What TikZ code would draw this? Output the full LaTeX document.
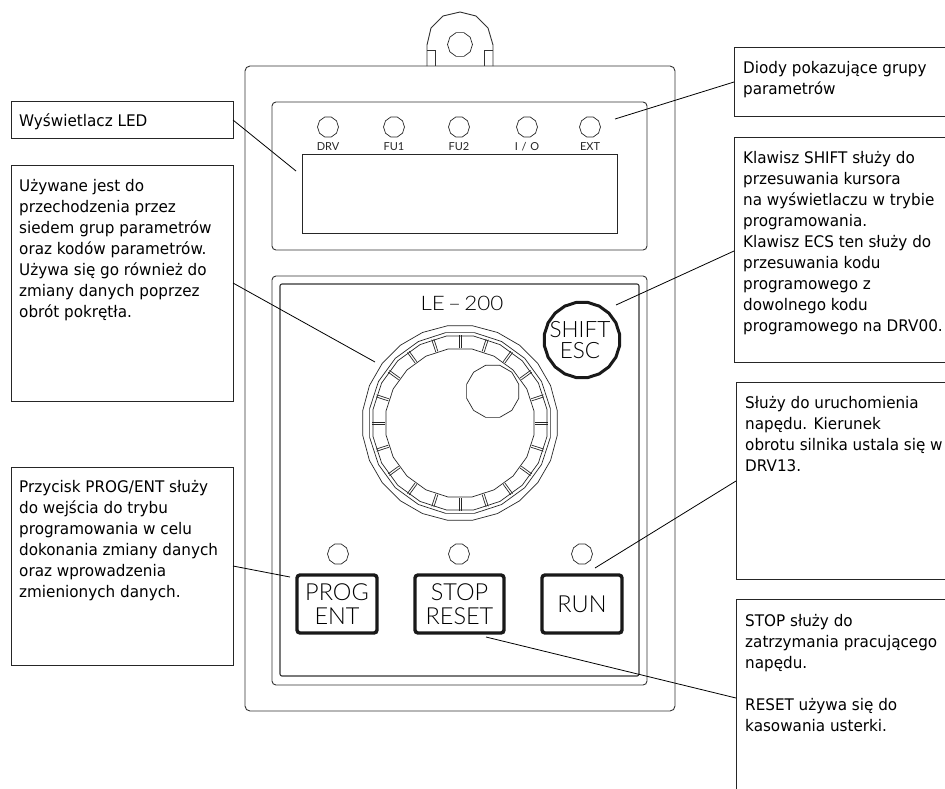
\documentclass[tikz,border=0pt]{standalone}
\usepackage{fontspec}
\usetikzlibrary{shapes.geometric,calc}
\setmainfont[FakeStretch=0.95]{DejaVu Sans}
\newfontfamily\cadfont{Lato Light}
\newfontfamily\cadsmall{Lato}
\newfontfamily\cadwide[FakeStretch=1.12]{Lato Light}
\tikzset{
 x=1pt,y=-1pt,
 wire/.style={draw=black!80,line width=0.9pt},
 thin wire/.style={draw=black!85,line width=0.7pt},
 callout/.style={draw=black!85,line width=0.9pt,fill=white,inner sep=0pt,outer sep=0pt},
 leader/.style={draw=black,line width=0.8pt},
 keybox/.style={draw=black!90,line width=3.4pt,rounded corners=3pt,inner sep=0pt},
 lamp/.style={draw=black!85,line width=0.7pt,regular polygon,regular polygon sides=10,minimum size=21pt,inner sep=0pt},
 cad/.style={font=\cadsmall\fontsize{11}{12}\selectfont,inner sep=0pt,text=black!85},
 keytext/.style={font=\cadfont\fontsize{23.5}{24}\selectfont,align=center,text=black},
 txt/.style={font=\fontsize{16}{21}\selectfont,align=left,anchor=north west,inner sep=0pt}
}
\begin{document}
\begin{tikzpicture}
\useasboundingbox (0,0) rectangle (945,788);
\fill[white] (0,0) rectangle (945,788);
% body
\draw[wire,rounded corners=5pt] (245,66) rectangle (675,711);
\draw[wire,rounded corners=4pt] (272,102) rectangle (647,250);
\draw[wire,rounded corners=4pt] (272,276) rectangle (647,685);
\draw[wire,rounded corners=2pt,line width=1.1pt] (280,284) rectangle (639,676);
\node[thin wire,draw,rectangle,minimum width=315pt,minimum height=79pt,inner sep=0pt] (disp) at (459.5,193.5) {};
% tab
\draw[wire] (427,66) -- (427,45) -- (431,28) -- (443,16) -- (460,12) -- (476,16) -- (488,28) -- (493,45) -- (493,66);
\draw[wire] (427,50) -- (435,50) -- (435,66) (484,66) -- (484,50) -- (493,50);
\node[thin wire,draw,regular polygon,regular polygon sides=10,minimum size=25pt,inner sep=0pt] (hole) at (460,44.5) {};
% lamps
\foreach \n/\x/\t in {a/328/DRV,b/394/FU1,c/459/FU2,d/527/{I\,\,/\,\,O},e/590/EXT}{
 \node[lamp] (l\n) at (\x,127) {};
 \node[cad] (t\n) at (\x,146.5) {\t};
}
% LE-200
\node[cad,text=black,font=\cadwide\fontsize{20}{21}\selectfont] (model) at (462,303.5) {LE\,–\,200};
% knob
\coordinate (kc) at (460,423);
\node[thin wire,draw,regular polygon,regular polygon sides=24,minimum size=196pt,inner sep=0pt] (k1) at (kc) {};
\node[thin wire,draw,regular polygon,regular polygon sides=20,minimum size=183pt,inner sep=0pt] (k2) at (kc) {};
\node[thin wire,draw,regular polygon,regular polygon sides=20,minimum size=176pt,inner sep=0pt] (k3) at (kc) {};
\node[thin wire,draw,regular polygon,regular polygon sides=20,minimum size=150pt,inner sep=0pt] (k4) at (kc) {};
\foreach \a in {0,18,...,342}{
 \begin{scope}[shift={(kc)},rotate=\a]
  \draw[thin wire] (75,-1.1) -- (88,-1.1) (75,1.1) -- (88,1.1);
 \end{scope}
}
\node[thin wire,draw,regular polygon,regular polygon sides=12,minimum size=54pt,inner sep=0pt] (dot) at (492.7,391.3) {};
% shift
\node[draw=black!90,line width=3pt,regular polygon,regular polygon sides=20,minimum size=76pt,inner sep=0pt] (shift) at (582,340) {};
\node[keytext,inner sep=0pt,font=\cadfont\fontsize{22.5}{21}\selectfont] (shifttext) at (580,340.5) {SHIFT\\ESC};
% buttons
\foreach \n/\x in {p/338,s/459,r/582}{\node[lamp] (b\n) at (\x,554) {};}
\node[keybox,keytext,draw,minimum width=80pt,minimum height=58pt] (prog) at (337,604) {PROG\\ENT};
\node[keybox,keytext,draw,minimum width=89pt,minimum height=58pt] (stop) at (459.5,604) {STOP\\RESET};
\node[keybox,keytext,draw,minimum width=80pt,minimum height=58pt] (run) at (582,604) {RUN};
% callouts
\draw[callout] (11,101) rectangle (233,138);
\node[txt] (c1) at (19,113) {Wyświetlacz LED};
\draw[callout] (11,165) rectangle (233,401);
\node[txt] (c2) at (19,179) {Używane jest do\\przechodzenia przez\\siedem grup parametrów\\oraz kodów parametrów.\\Używa się go również do\\zmiany danych poprzez\\obrót pokrętła.};
\draw[callout] (11,467) rectangle (233,665);
\node[txt] (c3) at (19,480) {Przycisk PROG/ENT służy\\do wejścia do trybu\\programowania w celu\\dokonania zmiany danych\\oraz wprowadzenia\\zmienionych danych.};
\draw[callout] (734,47) rectangle (950,116);
\node[txt] (c4) at (743,61) {Diody pokazujące grupy\\parametrów};
\draw[callout] (734,137) rectangle (950,362);
\node[txt] (c5) at (743,151) {Klawisz SHIFT służy do\\przesuwania kursora\\na wyświetlaczu w trybie\\programowania.\\Klawisz ECS ten służy do\\przesuwania kodu\\programowego z\\dowolnego kodu\\programowego na DRV00.};
\draw[callout] (736,382) rectangle (950,579);
\node[txt] (c6) at (745,396) {Służy do uruchomienia\\napędu. Kierunek\\obrotu silnika ustala się w\\DRV13.};
\draw[callout] (736,599) rectangle (950,800);
\node[txt] (c7) at (745,614) {STOP służy do\\zatrzymania pracującego\\napędu.\\\\RESET używa się do\\kasowania usterki.};
% leaders
\coordinate (s1) at (233,120); \coordinate (t1) at (296,171);
\coordinate (s2) at (233,283); \coordinate (t2) at (375,362);
\coordinate (s3) at (233,566); \coordinate (t3) at (290,577);
\coordinate (s4) at (734,82);  \coordinate (t4) at (615,119);
\coordinate (s5) at (734,251); \coordinate (t5) at (616,305);
\coordinate (s6) at (736,481); \coordinate (t6) at (595,568);
\coordinate (s7) at (736,698); \coordinate (t7) at (486,637);
\foreach \i in {1,...,7}{\draw[leader] (s\i) -- (t\i);}
\end{tikzpicture}
\end{document}
